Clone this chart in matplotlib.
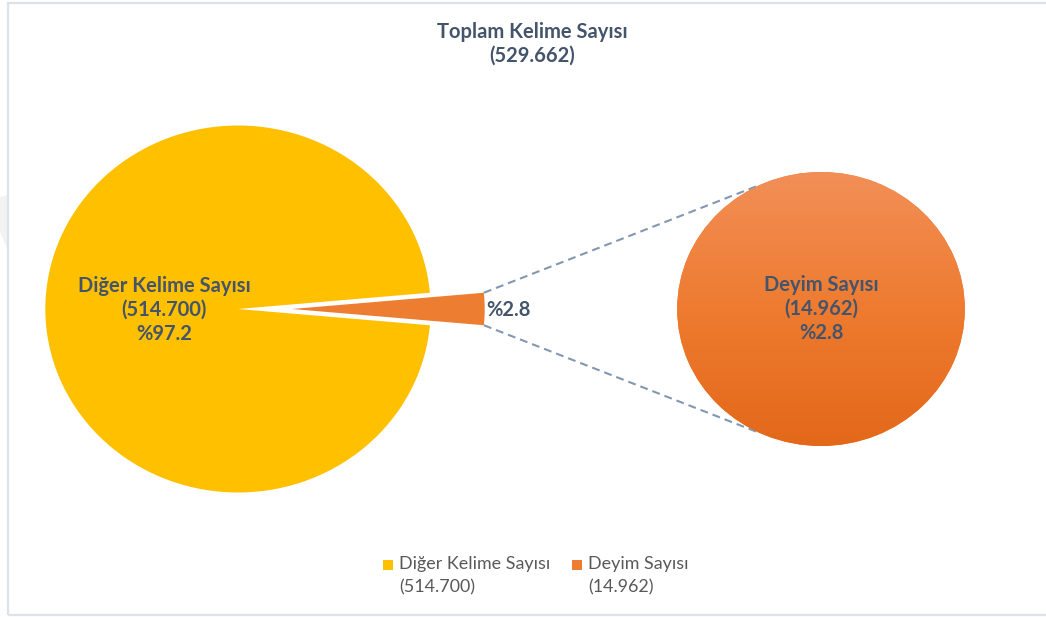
import numpy as np
import matplotlib
matplotlib.use("Agg")
import matplotlib.pyplot as plt
from matplotlib.patches import Rectangle, Polygon
from matplotlib.colors import LinearSegmentedColormap

# ---- data ----
categories = ["Diğer Kelime Sayısı", "Deyim Sayısı"]
values = [514700, 14962]
title_text = "Toplam Kelime Sayısı"
colors = ["#FFC000", "#ED7D31"]

total = sum(values)
def fmt_num(v):
    return f"{v:,}".replace(",", ".")
pcts = [100 * v / total for v in values]

# ---- layout ----
W, H = 1046, 617
S = 1.05  # horizontal stretch of the reference
TXT = "#44546A"
LEG = "#595959"
FONT = "Lato"

fig = plt.figure(figsize=(W / 100, H / 100), dpi=100)
ax = fig.add_axes([0, 0, 1, 1])

def X(px):
    return px / S
def Y(py):
    return H - py

# main pie
c1 = (X(238), Y(309))
r1 = 183.5
frac = values[1] / total
wedges, _ = ax.pie(values, colors=colors, startangle=360 * frac / 2,
                   explode=[0, X(54)], center=c1, radius=r1,
                   wedgeprops=dict(linewidth=0))

# secondary pie (only the small category)
c2 = (X(821), Y(309))
r2 = 137
w2, _ = ax.pie([values[1]], colors=[colors[1]], center=c2, radius=r2,
               wedgeprops=dict(linewidth=0))
grad = np.linspace(0, 1, 256).reshape(-1, 1)
cmap = LinearSegmentedColormap.from_list("g", ["#F28F57", "#EE7B30", "#E3681A"])
im = ax.imshow(grad, cmap=cmap, extent=[c2[0] - r2, c2[0] + r2, c2[1] - r2, c2[1] + r2],
               origin="upper", aspect="auto", zorder=2)
im.set_clip_path(w2[0])

# connector lines
sw = wedges[1]
cx, cy = sw.center
for th_slice, th_circ in [(sw.theta2, 115), (sw.theta1, 245)]:
    x0 = cx + sw.r * np.cos(np.radians(th_slice))
    y0 = cy + sw.r * np.sin(np.radians(th_slice))
    x1 = c2[0] + r2 * np.cos(np.radians(th_circ))
    y1 = c2[1] + r2 * np.sin(np.radians(th_circ))
    ax.plot([x0, x1], [y0, y1], color="#8497B0", lw=1.5,
            linestyle=(0, (3.8, 2.4)), zorder=1)

# labels
fs = 14.5
ax.text(X(532), Y(44), f"{title_text}\n({fmt_num(total)})", ha="center", va="center",
        fontsize=fs, fontweight="bold", color=TXT, family=FONT, linespacing=1.25)
ax.text(X(164), Y(310), f"{categories[0]}\n({fmt_num(values[0])})\n%{pcts[0]:.1f}",
        ha="center", va="center", fontsize=fs, fontweight="bold", color=TXT,
        family=FONT, linespacing=1.25, zorder=5)
ax.text(X(486), Y(310), f"%{pcts[1]:.1f}", ha="left", va="center", fontsize=fs,
        fontweight="bold", color=TXT, family=FONT)
ax.text(X(821), Y(309), f"{categories[1]}\n({fmt_num(values[1])})\n%{pcts[1]:.1f}",
        ha="center", va="center", fontsize=fs, fontweight="bold", color=TXT,
        family=FONT, linespacing=1.25, zorder=5)

# legend
leg_x = [388, 577]
for i, (cat, v) in enumerate(zip(categories, values)):
    ax.scatter([X(leg_x[i])], [Y(565)], marker="s", s=60, color=colors[i],
               linewidths=0, zorder=5)
    ax.text(X(leg_x[i] + 11), Y(576), f"{cat}\n({fmt_num(v)})", ha="left", va="center",
            fontsize=12.9, color=LEG, family=FONT, linespacing=1.55)

# chart border and left artefact
ax.add_patch(Polygon([[X(0), Y(197)], [X(8), Y(195)], [X(8), Y(250)], [X(0), Y(232)]],
                     closed=True, facecolor="#F2F2F2", edgecolor="none", zorder=0))
ax.add_patch(Rectangle((X(8), Y(615)), X(1060) - X(8), Y(3) - Y(615), fill=False,
                       edgecolor="#DCE2E8", lw=1.6, zorder=6))

ax.set_aspect("auto")
ax.set_xlim(0, X(W))
ax.set_ylim(0, H)
ax.set_axis_off()
fig.savefig("out.png", dpi=100, facecolor="white")
